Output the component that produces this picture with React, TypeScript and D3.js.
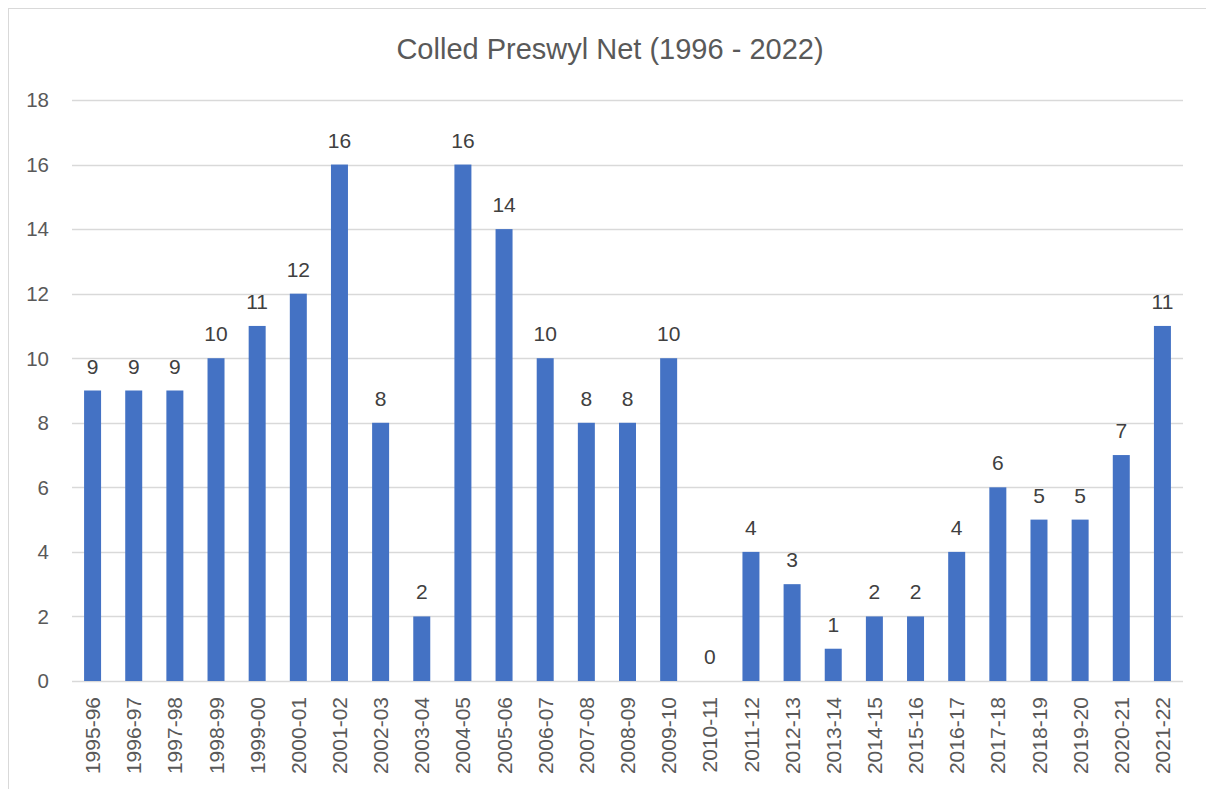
import * as d3 from "d3";

const seasons = [
  "1995-96", "1996-97", "1997-98", "1998-99", "1999-00", "2000-01", "2001-02",
  "2002-03", "2003-04", "2004-05", "2005-06", "2006-07", "2007-08", "2008-09",
  "2009-10", "2010-11", "2011-12", "2012-13", "2013-14", "2014-15", "2015-16",
  "2016-17", "2017-18", "2018-19", "2019-20", "2020-21", "2021-22",
];
const values = [9, 9, 9, 10, 11, 12, 16, 8, 2, 16, 14, 10, 8, 8, 10, 0, 4, 3, 1, 2, 2, 4, 6, 5, 5, 7, 11];
const yTicks = [0, 2, 4, 6, 8, 10, 12, 14, 16, 18];
const title = "Colled Preswyl Net (1996 - 2022)";

const width = 1206;
const height = 789;
const font = "'Liberation Sans', Arial, sans-serif";
const barColor = "#4472C4";
const gridColor = "#D9D9D9";

export default function App() {
  const x = d3
    .scaleBand<string>()
    .domain(seasons)
    .range([72, 1183])
    .paddingInner(0.587)
    .paddingOuter(0.2935);

  const y = d3.scaleLinear().domain([0, 18]).range([681, 100]);

  return (
    <svg
      width={width}
      height={height}
      style={{ position: "fixed", left: 0, top: 0, display: "block", background: "#fff" }}
      fontFamily={font}
    >
      <rect x={8.5} y={8.5} width={1400} height={1000} fill="#fff" stroke={gridColor} />
      <text x={610} y={59} textAnchor="middle" fontSize={29} fill="#595959">
        {title}
      </text>

      {/* gridlines + y labels */}
      {yTicks.map((t) => (
        <g key={t}>
          <line x1={72} x2={1183} y1={Math.round(y(t)) + 0.5} y2={Math.round(y(t)) + 0.5} stroke={gridColor} strokeWidth={1.5} />
          <text x={49} y={y(t)} dy="0.36em" textAnchor="end" fontSize={20.5} fill="#595959">
            {t}
          </text>
        </g>
      ))}

      {/* bars */}
      {seasons.map((s, i) => (
        <rect
          key={s}
          x={x(s)}
          y={y(values[i])}
          width={x.bandwidth()}
          height={y(0) - y(values[i])}
          fill={barColor}
        />
      ))}

      {/* value labels */}
      {seasons.map((s, i) => (
        <text
          key={s}
          x={(x(s) ?? 0) + x.bandwidth() / 2}
          y={y(values[i]) - 17}
          textAnchor="middle"
          fontSize={21}
          fill="#404040"
        >
          {values[i]}
        </text>
      ))}

      {/* x labels */}
      {seasons.map((s) => {
        const cx = (x(s) ?? 0) + x.bandwidth() / 2;
        return (
          <text
            key={s}
            transform={`translate(${cx},697) rotate(-90)`}
            dy="0.36em"
            textAnchor="end"
            fontSize={21}
            fill="#595959"
          >
            {s}
          </text>
        );
      })}
    </svg>
  );
}
